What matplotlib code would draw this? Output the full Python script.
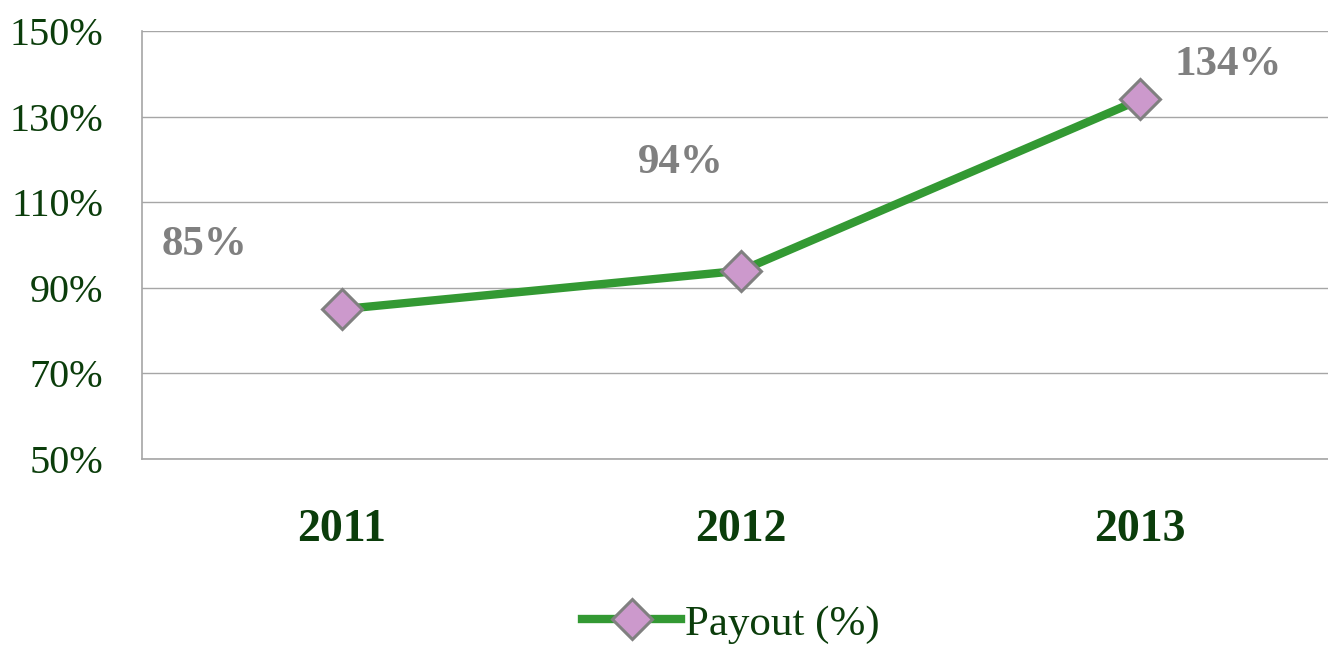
import matplotlib.pyplot as plt
from matplotlib.ticker import FuncFormatter

years = ['2011', '2012', '2013']
payout = [85, 94, 134]
label_offsets = [(-137, 64), (-60, 108), (88, 34)]  # pixels, label vs point
yticks = [50, 70, 90, 110, 130, 150]

green_dark = '#0b3d0b'
line_green = '#339933'
grid_gray = '#a6a6a6'

plt.rcParams['font.family'] = ['Liberation Serif', 'DejaVu Serif']

fig = plt.figure(figsize=(13.28, 6.46), dpi=100)
W, H = 1328, 646
# plot area: left 142, right ~1340 (off the canvas), top 31, bottom 459
ax = fig.add_axes([142 / W, 1 - 459 / H, (1340 - 142) / W, (459 - 31) / H])

x = list(range(len(years)))
ax.plot(x, payout, color=line_green, linewidth=6, marker='D', markersize=20,
        markerfacecolor='#cc99cc', markeredgecolor='#808080', markeredgewidth=2.2,
        label='Payout (%)', zorder=3, clip_on=False)

for xi, v, (dx, dy) in zip(x, payout, label_offsets):
    ax.annotate(f'{v}%', (xi, v), xytext=(dx, dy), textcoords='offset pixels',
                ha='center', va='center', fontsize=31, fontweight='bold',
                color='#808080')

ax.set_xlim(-0.5, 2.5)
ax.set_ylim(50, 150)
ax.set_yticks(yticks)
ax.yaxis.set_major_formatter(FuncFormatter(lambda v, p: f'{v:.0f}%'))
ax.set_xticks(x)
ax.set_xticklabels(years, fontsize=33, fontweight='bold', color=green_dark)
ax.tick_params(axis='y', labelsize=29, labelcolor=green_dark, length=0, pad=28)
ax.tick_params(axis='x', length=0, pad=36)

ax.grid(axis='y', color=grid_gray, linewidth=1)
ax.set_axisbelow(True)
for side in ['top', 'right']:
    ax.spines[side].set_visible(False)
for side in ['left', 'bottom']:
    ax.spines[side].set_color(grid_gray)
    ax.spines[side].set_linewidth(1.2)

fig.legend(loc='center', bbox_to_anchor=(731 / W, 1 - 624 / H), frameon=False,
           fontsize=31, handlelength=2.3, handletextpad=0.1,
           labelcolor=green_dark)

fig.savefig('out.png', dpi=100, facecolor='white')
